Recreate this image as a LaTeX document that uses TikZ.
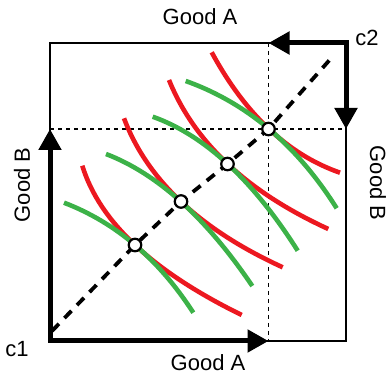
\documentclass[tikz,border=0pt]{standalone}
\usepackage{fontspec}
\setmainfont{Liberation Sans}
\usetikzlibrary{arrows.meta,calc}
\definecolor{cred}{RGB}{236,24,32}
\definecolor{cgreen}{RGB}{60,178,72}
\begin{document}
\begin{tikzpicture}[x=1pt,y=-1pt,
  frame/.style={line width=2.6pt},
  thickarr/.style={line width=5pt,{Triangle[length=21pt,width=22pt]}-{Triangle[length=21pt,width=22pt]}},
  guide/.style={line width=1.5pt,dash pattern=on 4pt off 4pt},
  contract/.style={line width=3.8pt,dash pattern=on 10pt off 8pt},
  icA/.style={cred,line width=4.6pt},
  icB/.style={cgreen,line width=4.6pt},
  eq/.style={circle,draw,fill=white,line width=2.2pt,minimum size=12.5pt,inner sep=0pt},
  lab/.style={font=\fontsize{22}{26}\selectfont,inner sep=0pt}]
\useasboundingbox (0,0) rectangle (389,374);
% corners and tips
\coordinate (c1) at (50,341);
\coordinate (c2) at (346,43);
\coordinate (tl) at (50,43);
\coordinate (br) at (346,341);
\coordinate (pA) at (268.5,341);
\coordinate (pB) at (50,129);
\coordinate (qA) at (268.5,43);
\coordinate (qB) at (346,129);
\coordinate (d0) at (52,331);
\coordinate (d5) at (334,55);
\coordinate (e1) at (135,245);
\coordinate (e2) at (181,201.5);
\coordinate (e3) at (227.5,164);
\coordinate (e4) at (268.5,129);
% frame
\draw[frame] (c1) -- (tl) -- (c2) -- (br) -- cycle;
% guides
\draw[guide] (qA) -- (pA);
\draw[guide] (pB) -- (qB);
% indifference curves of c1 (red)
\draw[icA] (82.3,165.7) .. controls (99.4,221.7) and (152.6,271.4) .. (241.7,315);
\draw[icA] (124,118.3) .. controls (147.1,179.8) and (200.0,229.5) .. (282.7,267.3);
\draw[icA] (169,80) .. controls (194.2,142.3) and (247.3,192.0) .. (328.3,229);
\draw[icA] (211.7,52.3) .. controls (245.3,114.4) and (288.1,154.6) .. (340,172.7);
% indifference curves of c2 (green)
\draw[icB] (64,202.7) .. controls (115.6,222.4) and (158.7,259.1) .. (193.3,312.7);
\draw[icB] (106,154) .. controls (157.2,173.6) and (206.0,217.6) .. (252.3,286);
\draw[icB] (152.7,116.7) .. controls (204.4,135.1) and (252.7,179.8) .. (297.7,250.7);
\draw[icB] (185.7,81) .. controls (246.4,102.6) and (296.8,145.0) .. (336.7,208.3);
% contract curve
\draw[contract] (d0) -- (e1) -- (e2) -- (e3) -- (e4) -- (d5);
% thick axes
\draw[thickarr] (pB) -- (c1) -- (pA);
\draw[thickarr] (qA) -- (c2) -- (qB);
% equilibrium points
\node[eq] (E1) at (e1) {};
\node[eq] (E2) at (e2) {};
\node[eq] (E3) at (e3) {};
\node[eq] (E4) at (e4) {};
% labels
\node[lab] (gAt) at (200,17) {Good A};
\node[lab] (gAb) at (208,363) {Good A};
\node[lab,rotate=90] (gBl) at (22,185) {Good B};
\node[lab,rotate=-90] (gBr) at (378,183) {Good B};
\node[lab] (lc1) at (17,349) {c1};
\node[lab] (lc2) at (367,38) {c2};
\end{tikzpicture}
\end{document}
